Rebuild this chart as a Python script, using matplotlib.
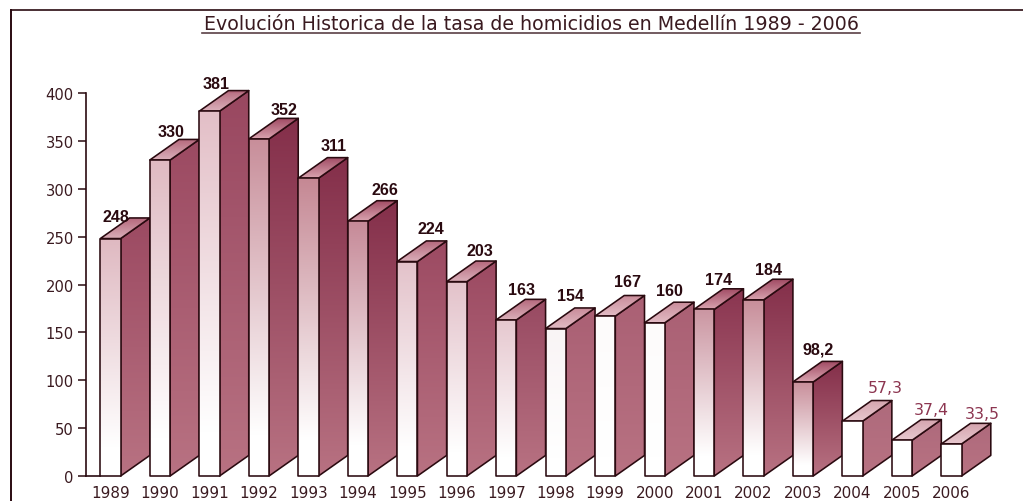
import matplotlib
matplotlib.use('Agg')
import matplotlib.pyplot as plt
import numpy as np
from matplotlib.colors import LinearSegmentedColormap
from matplotlib.patches import Polygon

years = [1989, 1990, 1991, 1992, 1993, 1994, 1995, 1996, 1997,
         1998, 1999, 2000, 2001, 2002, 2003, 2004, 2005, 2006]
tasa = [248, 330, 381, 352, 311, 266, 224, 203, 163,
        154, 167, 160, 174, 184, 98.2, 57.3, 37.4, 33.5]
etiquetas = ['248', '330', '381', '352', '311', '266', '224', '203', '163',
             '154', '167', '160', '174', '184', '98,2', '57,3', '37,4', '33,5']
# colour at the top of each bar: front face, side face, top face (near and far edge)
frente = ['#dfb9c1', '#e0bac2', '#e3bfc7', '#c88e9a', '#c58894', '#c68a98', '#e3c2ca', '#e3c2ca', '#e6c8cf',
          '#f9f4f5', '#fdfbfb', '#fdfbfb', '#cb96a2', '#c88e9a', '#c88e9a', '#ffffff', '#ffffff', '#ffffff']
lado = ['#9c4a62', '#9c4a62', '#994760', '#842f4a', '#842f4a', '#842f4a', '#9c4a62', '#9c4a62', '#984a62',
        '#aa6074', '#aa6074', '#aa6074', '#8a3550', '#842f4a', '#842f4a', '#ae6a7c', '#ae6a7c', '#ae6a7c']
tapa_cerca = ['#dbb0ba', '#dbb0ba', '#dbb0ba', '#d9a3af', '#d9a3af', '#d9a3af', '#dbb0ba', '#dbb0ba', '#dbb0ba',
              '#e3bcc5', '#e3bcc5', '#e3bcc5', '#d9a3af', '#d9a3af', '#d9a3af', '#e8c8cf', '#e8c8cf', '#e8c8cf']
tapa_fondo = ['#b5697d', '#b5697d', '#b5697d', '#a04a63', '#a04a63', '#a04a63', '#b5697d', '#b5697d', '#b5697d',
              '#c98c9a', '#c98c9a', '#c98c9a', '#a04a63', '#a04a63', '#a04a63', '#d4a4ae', '#d4a4ae', '#d4a4ae']
# label offsets in pixels: from the bar's left edge, and above the back top edge
et_dx = [16, 21, 17, 35, 35, 37, 34, 33, 25, 25, 33, 25, 25, 25, 25, 43, 39, 41]
et_dy = [1, 8, 7, 9, 12, 11, 12, 11, 10, 12, 14, 12, 9, 10, 12, 13, 10, 10]
LADO_ABAJO = '#b87282'
OSCURO = '#2a0a10'
TEXTO = '#3a1a20'
ROJO = '#8c3550'

W, H = 1023, 502
ANCHO = 0.41
DX, DY = 0.59, 21.5  # depth of the bars in data units
X_INI = -0.30
X_FIN = (W - 85.5) / 49.47 + X_INI

fig = plt.figure(figsize=(W / 100, H / 100), dpi=100, facecolor='white')
ax = fig.add_axes([85.5 / W, 1 - 477 / H, (W - 85.5) / W, (477 - 94) / H])
ax.patch.set_alpha(0)
for s in ['top', 'right', 'bottom']:
    ax.spines[s].set_visible(False)
ax.spines['left'].set_color(OSCURO)
ax.spines['left'].set_linewidth(1.2)
ax.set_yticks(range(0, 401, 50))
ax.tick_params(axis='y', length=5.5, width=1.1, color=OSCURO, labelcolor=TEXTO, labelsize=10.6, pad=3)
ax.set_xticks([])


def gradiente(poly, colores, y0, y1, z):
    # vertical gradient clipped to a polygon, flat colour below for what falls off the axes
    cmap = LinearSegmentedColormap.from_list('g', colores)
    xs = poly[:, 0]
    ultimo = colores[-1][1] if isinstance(colores[-1], tuple) else colores[-1]
    ax.add_patch(Polygon(poly, closed=True, facecolor=ultimo, edgecolor='none', zorder=z - 0.05, clip_on=False))
    im = ax.imshow(np.linspace(0, 1, 128)[:, None], cmap=cmap, origin='lower', aspect='auto',
                   extent=(xs.min(), xs.max(), y0, y1), zorder=z, vmin=0, vmax=1)
    p = Polygon(poly, closed=True, transform=ax.transData, facecolor='none',
                edgecolor=OSCURO, linewidth=1.15, zorder=z + 0.1, clip_on=False, joinstyle='round')
    ax.add_patch(p)
    im.set_clip_path(p)


for i, v in enumerate(tasa):
    z = 2 + i
    x0, x1 = i, i + ANCHO
    lat = np.array([[x1, 0], [x1 + DX, DY], [x1 + DX, v + DY], [x1, v]])
    gradiente(lat, [LADO_ABAJO, lado[i]], 0, v + DY, z)
    sup = np.array([[x0, v], [x1, v], [x1 + DX, v + DY], [x0 + DX, v + DY]])
    gradiente(sup, [tapa_cerca[i], tapa_fondo[i]], v, v + DY, z + 0.2)
    fr = np.array([[x0, 0], [x1, 0], [x1, v], [x0, v]])
    gradiente(fr, [(0, '#ffffff'), (0.12, '#ffffff'), (1, frente[i])], 0, v, z + 0.4)
    rojo = v < 60
    ax.annotate(etiquetas[i], xy=(i, v + DY), xytext=(et_dx[i] * 0.72, et_dy[i] * 0.72),
                textcoords='offset points', ha='center', va='center', zorder=40,
                fontsize=11.3 if rojo else 11.6,
                family='DejaVu Sans' if rojo else 'Liberation Sans',
                fontweight='normal' if rojo else 'bold',
                color=ROJO if rojo else OSCURO, annotation_clip=False)
    ax.text(i + ANCHO / 2, -17.7, str(years[i]), ha='center', va='center', fontsize=10.9, color=TEXTO, clip_on=False)

ax.set_xlim(X_INI, X_FIN)
ax.set_ylim(0, 400)

# tick at the base runs to the first bar
ax.plot([X_INI, 0], [0, 0], color=OSCURO, lw=1.2, clip_on=False, zorder=1)

# outer frame, title
fig.add_artist(plt.Line2D([11 / W, 11 / W], [0, 1 - 10.5 / H], color=OSCURO, lw=1.4))
fig.add_artist(plt.Line2D([11 / W, 1], [1 - 10.5 / H, 1 - 10.5 / H], color=OSCURO, lw=1.2))
fig.text(531 / W, 1 - 25 / H, 'Evolución Historica de la tasa de homicidios en Medellín 1989 - 2006',
         ha='center', va='center', fontsize=13.65, color=TEXTO)
fig.add_artist(plt.Line2D([202 / W, 860 / W], [1 - 33.5 / H, 1 - 33.5 / H], color='#5a4045', lw=1.2))

fig.savefig('out.png', dpi=100)
